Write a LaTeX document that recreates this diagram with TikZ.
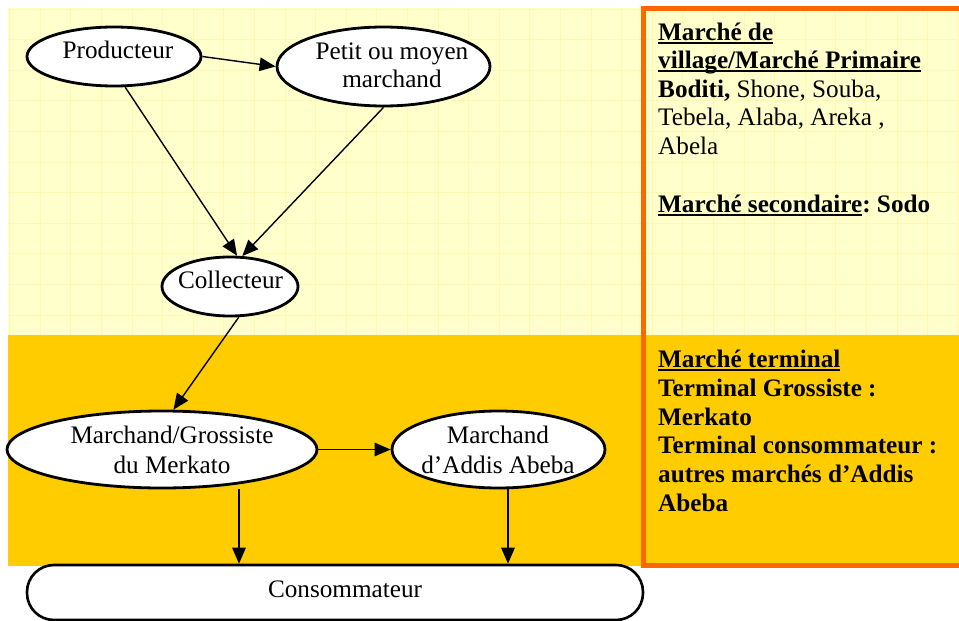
\documentclass[tikz,border=0pt]{standalone}
\usepackage{fontspec}
\setmainfont{Liberation Serif}
\usetikzlibrary{arrows.meta,shapes.geometric,calc}

\definecolor{paleyel}{HTML}{FFFFCC}
\definecolor{gridyel}{RGB}{255,248,178}
\definecolor{goldyel}{HTML}{FFCC00}
\definecolor{framecol}{HTML}{FF6600}

% underline drawn as a thick rule a little below the baseline
\newsavebox\ulsave
\newcommand\ulbox[1]{\sbox\ulsave{#1}\rlap{\rule[-3.6pt]{\wd\ulsave}{2pt}}\usebox\ulsave}

\tikzset{
  ell/.style={ellipse, draw=black, line width=2.8pt, fill=white, inner sep=0pt},
  lbl/.style={anchor=base, inner sep=0pt, font=\fontsize{25.2}{29}\selectfont},
  side/.style={anchor=base west, inner sep=0pt, font=\fontsize{25.2}{29}\selectfont},
  arr/.style={line width=1.4pt, -{Triangle[length=16pt,width=13.5pt]}},
}

\begin{document}
\frenchspacing
\begin{tikzpicture}[x=1pt,y=-1pt]
\useasboundingbox (0,0) rectangle (959,621);
\fill[white] (0,0) rectangle (959,621);

% two market bands
\fill[paleyel] (8,7.5) rectangle (959,335);
\foreach \k in {0,...,31} \draw[gridyel, line width=0.8pt] (9.5+30.6*\k,7.5) -- (9.5+30.6*\k,335);
\foreach \k in {0,...,10} \draw[gridyel, line width=0.8pt] (8,9+30.6*\k) -- (959,9+30.6*\k);
\fill[goldyel] (8,335) rectangle (959,565.5);

% frame of the market-level column
\draw[framecol, line width=5pt] (643,8.5) rectangle (965,565.5);

% actors
\node[ell, minimum width=174, minimum height=59] (prod) at (114,56.5) {};
\node[ell, minimum width=213, minimum height=79] (petit) at (383.5,66.5) {};
\node[ell, minimum width=136, minimum height=59] (coll) at (230,286.5) {};
\node[ell, minimum width=310, minimum height=77] (gross) at (162,449.5) {};
\node[ell, minimum width=213, minimum height=77] (addis) at (498.5,449.5) {};
\node[draw=black, line width=2.6pt, fill=white, rounded corners=27pt,
      minimum width=616, minimum height=55, inner sep=0pt] (cons) at (335,592.5) {};

\node[lbl] (prod-t) at (118,58) {Producteur};
\node[lbl] (petit-t1) at (392,59) {Petit ou moyen};
\node[lbl] (petit-t2) at (392,87) {marchand};
\node[lbl] (coll-t) at (230.5,288) {Collecteur};
\node[lbl] (gross-t1) at (172,443) {Marchand/Grossiste};
\node[lbl] (gross-t2) at (172,473) {du Merkato};
\node[lbl] (addis-t1) at (498,443) {Marchand};
\node[lbl] (addis-t2) at (498,473) {d’Addis Abeba};
\node[lbl] (cons-t) at (345,597) {Consommateur};

% flows
\coordinate (gdrop) at ([xshift=77pt]gross.south);
\coordinate (adrop) at ([xshift=9.5pt]addis.south);
\draw[arr] (prod.east) -- (petit.west);
\draw[arr] (prod.-70) -- (coll.77);
\draw[arr] (petit.south) -- (coll.68);
\draw[arr] (coll.-74) -- (gross.74);
\draw[arr] (gross.east) -- (addis.west);
\draw[arr] (gdrop) -- (gdrop |- cons.north);
\draw[arr] (adrop) -- (adrop |- cons.north);

% market levels
\node[side] (m1) at (658,40) {\bfseries\ulbox{Marché de}};
\node[side] (m2) at (658,68.5) {\bfseries\ulbox{village/Marché Primaire}};
\node[side] (m3) at (658,97) {\textbf{Boditi,} Shone, Souba,};
\node[side] (m4) at (658,125.5) {Tebela, Alaba, Areka ,};
\node[side] (m5) at (658,154) {Abela};
\node[side] (m6) at (658,212) {\bfseries\ulbox{Marché secondaire}: Sodo};

\node[side] (t1) at (658,367) {\bfseries\ulbox{Marché terminal}};
\node[side] (t2) at (658,396) {\bfseries Terminal Grossiste :};
\node[side] (t3) at (658,425) {\bfseries Merkato};
\node[side] (t4) at (658,453.5) {\bfseries Terminal consommateur :};
\node[side] (t5) at (658,482.5) {\bfseries autres marchés d’Addis};
\node[side] (t6) at (658,511.5) {\bfseries Abeba};
\end{tikzpicture}
\end{document}
